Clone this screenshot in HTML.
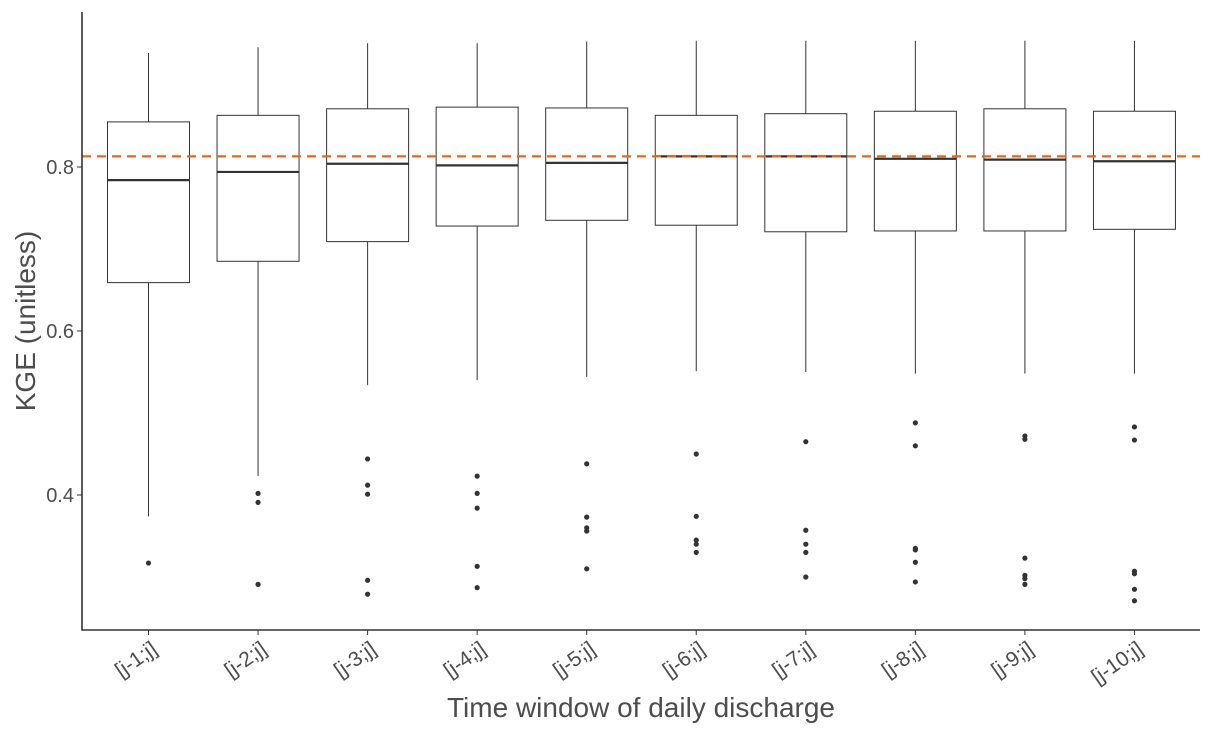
<!DOCTYPE html>
<html><head><meta charset="utf-8"><style>
html,body{margin:0;padding:0;background:#fff;}
svg{display:block;font-family:"Liberation Sans",sans-serif;}
</style></head><body>
<svg id="chart" width="1214" height="736"></svg>
<script>
const categories=["[j-1;j]","[j-2;j]","[j-3;j]","[j-4;j]","[j-5;j]","[j-6;j]","[j-7;j]","[j-8;j]","[j-9;j]","[j-10;j]"];
const whiskerHigh=[0.939,0.946,0.951,0.951,0.953,0.954,0.954,0.954,0.954,0.954];
const q3=[0.855,0.863,0.871,0.873,0.872,0.863,0.865,0.868,0.871,0.868];
const medians=[0.784,0.794,0.804,0.802,0.805,0.813,0.813,0.810,0.809,0.807];
const q1=[0.659,0.685,0.709,0.728,0.735,0.729,0.721,0.722,0.722,0.724];
const whiskerLow=[0.374,0.423,0.534,0.540,0.544,0.551,0.550,0.548,0.548,0.548];
const outliers=[[0.317],[0.402,0.391,0.291],[0.444,0.412,0.401,0.296,0.279],[0.423,0.402,0.384,0.313,0.287],[0.438,0.373,0.360,0.356,0.310],[0.450,0.374,0.345,0.340,0.330],[0.465,0.357,0.340,0.330,0.300],[0.488,0.460,0.335,0.333,0.318,0.294],[0.472,0.468,0.323,0.302,0.298,0.291],[0.483,0.467,0.307,0.304,0.285,0.271]];
const referenceLine=0.813;
const yTicks=[0.4,0.6,0.8];
const yTickLabels=["0.4","0.6","0.8"];

const NS="http://www.w3.org/2000/svg";
const svg=document.getElementById('chart');
const L=82,R=1200,T=12,B=630;
function y(v){return 495-(v-0.4)*820;}
const step=109.55;
function x(i){return 148.5+step*i;}
function mk(tag,attrs,parent){const e=document.createElementNS(NS,tag);for(const k in attrs)e.setAttribute(k,attrs[k]);(parent||svg).appendChild(e);return e;}

yTicks.forEach((t,i)=>{
  const tk=mk('line',{x1:L-5,x2:L,y1:y(t),y2:y(t),stroke:'#333','stroke-width':1});
  
  
  const tx=mk('text',{x:L-8,y:y(t)+7,'text-anchor':'end','font-size':20,fill:'#4d4d4d'});
  tx.textContent=yTickLabels[i];
  
  
});

categories.forEach((c,i)=>{
  const cx=x(i),hw=41;
  const g=mk('g',{});
  
  
  mk('line',{x1:cx,x2:cx,y1:y(whiskerHigh[i]),y2:y(q3[i]),stroke:'#333','stroke-width':1},g);
  mk('line',{x1:cx,x2:cx,y1:y(q1[i]),y2:y(whiskerLow[i]),stroke:'#333','stroke-width':1},g);
  mk('rect',{x:cx-hw,y:y(q3[i]),width:hw*2,height:y(q1[i])-y(q3[i]),fill:'#fff',stroke:'#333','stroke-width':1},g);
  const md=mk('line',{x1:cx-hw,x2:cx+hw,y1:y(medians[i]),y2:y(medians[i]),stroke:'#333','stroke-width':2.2},g);
  
  
  outliers[i].forEach(o=>{
    const p=mk('circle',{cx:cx,cy:y(o),r:2.6,fill:'#333'},g);
    
    
  });
  mk('line',{x1:cx,x2:cx,y1:B,y2:B+5,stroke:'#333','stroke-width':1});
  const tx=mk('text',{x:cx+10,y:B+22,'text-anchor':'end','font-size':21,fill:'#4d4d4d',transform:`rotate(-35 ${cx+10} ${B+22})`});
  tx.textContent=c;
  
  
});

const ref=mk('line',{x1:L,x2:R,y1:y(referenceLine),y2:y(referenceLine),stroke:'#e8641b','stroke-width':2.2,'stroke-dasharray':'9,6'});



const ax=mk('path',{d:`M${L} ${T}V${B}H${R}`,fill:'none',stroke:'#333','stroke-width':1.6});



const xt=mk('text',{x:(L+R)/2,y:717,'text-anchor':'middle','font-size':28,fill:'#4d4d4d'});
xt.textContent='Time window of daily discharge';


const yt=mk('text',{x:35,y:(T+B)/2,'text-anchor':'middle','font-size':28,fill:'#4d4d4d',transform:`rotate(-90 35 ${(T+B)/2})`});
yt.textContent='KGE (unitless)';


</script>
</body></html>
